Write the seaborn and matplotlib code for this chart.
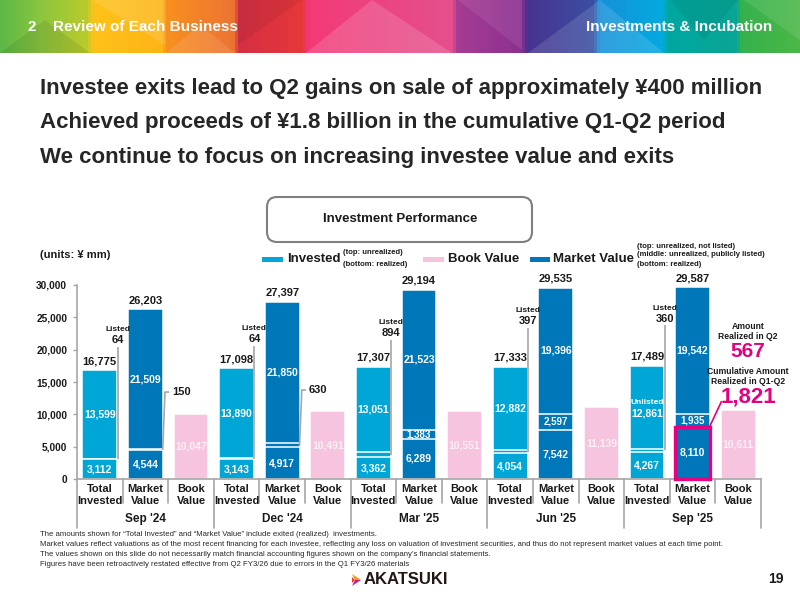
import numpy as np
import matplotlib
matplotlib.use("Agg")
import matplotlib.pyplot as plt
from matplotlib import font_manager
from matplotlib.patches import Rectangle, FancyBboxPatch, Polygon
from matplotlib.colors import LinearSegmentedColormap
from matplotlib.ticker import FuncFormatter
import pandas as pd
import seaborn as sns

# ---- data (units: JPY mm) ----
periods = ["Sep '24", "Dec '24", "Mar '25", "Jun '25", "Sep '25"]
kinds = ["Total\nInvested", "Market\nValue", "Book\nValue"]

inv_realized = [3112, 3143, 3362, 4054, 4267]
inv_listed = [64, 64, 894, 397, 360]
inv_unrealized = [13599, 13890, 13051, 12882, 12861]
inv_total = [16775, 17098, 17307, 17333, 17489]

mv_realized = [4544, 4917, 6289, 7542, 8110]
mv_listed = [150, 630, 1383, 2597, 1935]
mv_unlisted = [21509, 21850, 21523, 19396, 19542]
mv_total = [26203, 27397, 29194, 29535, 29587]

book_value = [10047, 10491, 10551, 11139, 10611]

realized_q2 = 567
realized_q1_q2 = 1821

C_INV = "#00A6D6"
C_MV = "#0077B9"
C_BOOK = "#F6C4DE"
MAGENTA = "#E4007F"
GRAY = "#A6A6A6"
TXT = "#1a1a1a"

sns.set_theme(style="white")
plt.rcParams["font.family"] = ["Liberation Sans", "DejaVu Sans"]
names = {f.name for f in font_manager.fontManager.ttflist}
NARROW = "Liberation Sans Narrow" if "Liberation Sans Narrow" in names else "Liberation Sans"

fig = plt.figure(figsize=(8, 6), dpi=100)

# decoration layer in pixel coords
deco = fig.add_axes([0, 0, 1, 1])
deco.axis("off")

# header banner
stops = [(0, "#5db846"), (40, "#8cc63f"), (85, "#b9cb2b"), (92, "#ffc21a"), (160, "#fdb515"),
         (166, "#f8901e"), (232, "#ec7433"), (238, "#d42f44"), (302, "#e6383a"), (308, "#f33a77"),
         (452, "#e4508c"), (458, "#a63c93"), (522, "#8b3191"), (528, "#48338f"), (594, "#3a4fa2"),
         (600, "#1690da"), (664, "#04aadf"), (670, "#00a8a0"), (738, "#0aa596"), (744, "#35b24b"),
         (800, "#4cb748")]
cmap = LinearSegmentedColormap.from_list("banner", [(p / 800, c) for p, c in stops])
grad = cmap(np.linspace(0, 1, 800))[None, :, :]
deco.imshow(grad, extent=[0, 800, 53, 0], aspect="auto")
facets = [
    ([(0, 53), (45, 20), (90, 53)], "black", 0.08),
    ([(92, 0), (165, 45), (165, 0)], "white", 0.12),
    ([(166, 53), (200, 25), (235, 53)], "white", 0.10),
    ([(238, 0), (302, 0), (238, 45)], "black", 0.06),
    ([(306, 53), (372, 0), (452, 53)], "white", 0.14),
    ([(458, 0), (522, 0), (522, 50)], "white", 0.08),
    ([(528, 53), (600, 0), (664, 53)], "white", 0.12),
    ([(670, 0), (738, 0), (704, 40)], "black", 0.06),
    ([(744, 0), (800, 0), (800, 40)], "white", 0.10),
]
for pts, col, a in facets:
    deco.add_patch(Polygon(pts, closed=True, fc=col, ec="none", alpha=a))
deco.text(28, 27, "2", color="white", fontsize=11, fontweight="bold", va="center")
deco.text(53, 27, "Review of Each Business", color="white", fontsize=11, fontweight="bold", va="center")
deco.text(772, 27, "Investments & Incubation", color="white", fontsize=11, fontweight="bold",
          va="center", ha="right")

# headline
heads = ["Investee exits lead to Q2 gains on sale of approximately \u00a5400 million",
         "Achieved proceeds of \u00a51.8 billion in the cumulative Q1-Q2 period",
         "We continue to focus on increasing investee value and exits"]
for y, h in zip([94, 128, 163], heads):
    deco.text(40, y, h, fontsize=16, fontweight="bold", color="#262626", va="baseline")

# box title
deco.add_patch(FancyBboxPatch((267, 197), 265, 45, boxstyle="round,pad=0,rounding_size=10",
                              fc="white", ec="#7f7f7f", lw=1.5))
deco.text(400, 219, "Investment Performance", fontsize=9.5, fontweight="bold", ha="center",
          va="center", color=TXT)
deco.text(40, 255, "(units: \u00a5 mm)", fontsize=8, fontweight="bold", va="center", color=TXT)

# legend
deco.add_patch(Rectangle((262, 256.5), 21, 5, fc=C_INV, ec="none"))
deco.text(287, 259, "Invested", fontsize=9.5, fontweight="bold", va="center", color=TXT)
deco.text(343, 253, "(top: unrealized)", fontsize=5.5, fontweight="bold", va="center", color=TXT)
deco.text(343, 264, "(bottom: realized)", fontsize=5.5, fontweight="bold", va="center", color=TXT)
deco.add_patch(Rectangle((423, 256.5), 21, 5, fc=C_BOOK, ec="none"))
deco.text(448, 259, "Book Value", fontsize=9.5, fontweight="bold", va="center", color=TXT)
deco.add_patch(Rectangle((530, 256.5), 20, 5, fc=C_MV, ec="none"))
deco.text(553, 259, "Market Value", fontsize=9.5, fontweight="bold", va="center", color=TXT)
for y, s in zip([246, 255, 264], ["(top: unrealized, not listed)",
                                  "(middle: unrealized, publicly listed)",
                                  "(bottom: realized)"]):
    deco.text(637, y, s, fontsize=5.5, fontweight="bold", va="center", color=TXT)

# footnotes
notes = ["The amounts shown for \u201cTotal Invested\u201d and \u201cMarket Value\u201d include exited (realized)  investments.",
         "Market values reflect valuations as of the most recent financing for each investee, reflecting any loss on valuation of investment securities, and thus do not represent market values at each time point.",
         "The values shown on this slide do not necessarily match financial accounting figures shown on the company\u2019s financial statements.",
         "Figures have been retroactively restated effective from Q2 FY3/26 due to errors in the Q1 FY3/26 materials"]
for y, n in zip([534, 544.5, 555, 565], notes):
    deco.text(40, y, n, fontsize=5.55, family=NARROW, va="center", color="#262626")

# logo + page
deco.add_patch(Polygon([(352, 574), (361, 580), (355, 580)], fc="#f39800", ec="none"))
deco.add_patch(Polygon([(355, 580), (361, 580), (352, 586)], fc="#c3208a", ec="none"))
deco.add_patch(Polygon([(352, 577), (355, 580), (352, 583)], fc="#e8383d", ec="none"))
deco.text(364, 580, "AKATSUKI", fontsize=12, fontweight="bold", va="center", color="#231815")
deco.text(776, 579, "19", fontsize=10, fontweight="bold", va="center", ha="center", color=TXT)

deco.set_xlim(0, 800)
deco.set_ylim(600, 0)

# ---- chart ----
ax = fig.add_axes([77 / 800, 1 - 479.3 / 600, (761 - 77) / 800, (479.3 - 284.7) / 600])
ax.patch.set_alpha(0)

slots = [f"s{i}" for i in range(15)]
inv_pos = [3 * g for g in range(5)]
mv_pos = [3 * g + 1 for g in range(5)]
bk_pos = [3 * g + 2 for g in range(5)]

r_i, l_i, u_i = map(np.array, (inv_realized, inv_listed, inv_unrealized))
r_m, l_m, u_m = map(np.array, (mv_realized, mv_listed, mv_unlisted))
layers = [
    (inv_pos, r_i + l_i + u_i, C_INV), (inv_pos, r_i + l_i, C_INV), (inv_pos, r_i, C_INV),
    (mv_pos, r_m + l_m + u_m, C_MV), (mv_pos, r_m + l_m, C_MV), (mv_pos, r_m, C_MV),
    (bk_pos, np.array(book_value), C_BOOK),
]
for pos, vals, col in layers:
    df = pd.DataFrame({"slot": [slots[p] for p in pos], "value": vals})
    sns.barplot(data=df, x="slot", y="value", order=slots, color=col, saturation=1,
                width=0.76, edgecolor="white", linewidth=1.1, errorbar=None, ax=ax)

ax.set_xlim(-0.5, 14.5)
ax.set_ylim(0, 30000)
ax.set_xlabel("")
ax.set_ylabel("")
ax.set_xticks([])
ax.set_yticks(range(0, 30001, 5000))
ax.yaxis.set_major_formatter(FuncFormatter(lambda v, _: f"{v:,.0f}"))
ax.tick_params(axis="y", left=True, length=3, width=1, color=GRAY, labelsize=7.3, pad=4,
               labelcolor=TXT)
for lbl in ax.get_yticklabels():
    lbl.set_fontweight("bold")
sns.despine(ax=ax)
for s in ("left", "bottom"):
    ax.spines[s].set_color(GRAY)
    ax.spines[s].set_linewidth(1.2)

wlab = dict(color="white", fontweight="bold", ha="center", va="center", fontsize=7.5)
blab = dict(color=TXT, fontweight="bold", ha="center", fontsize=8)
for g in range(5):
    xi, xm, xb = inv_pos[g], mv_pos[g], bk_pos[g]
    # invested
    ax.text(xi, r_i[g] / 2, f"{r_i[g]:,}", **wlab)
    mid = r_i[g] + l_i[g] + u_i[g] / 2
    if g == 4:
        ax.text(xi, mid + 850, "Unlisted", **{**wlab, "fontsize": 6})
        ax.text(xi, mid - 850, f"{u_i[g]:,}", **wlab)
    else:
        ax.text(xi, mid, f"{u_i[g]:,}", **wlab)
    ax.annotate(f"{inv_total[g]:,}", (xi, r_i[g] + l_i[g] + u_i[g]), xytext=(0, 3),
                textcoords="offset points", va="bottom", **blab)
    # market value
    ax.text(xm, r_m[g] / 2, f"{r_m[g]:,}", **wlab)
    ax.text(xm, r_m[g] + l_m[g] + u_m[g] / 2, f"{u_m[g]:,}", **wlab)
    if g >= 2:
        ax.text(xm, r_m[g] + l_m[g] / 2, f"{l_m[g]:,}", **{**wlab, "fontsize": 7})
    ax.annotate(f"{mv_total[g]:,}", (xm, r_m[g] + l_m[g] + u_m[g]), xytext=(0, 3),
                textcoords="offset points", va="bottom", **blab)
    # book
    ax.text(xb, book_value[g] / 2, f"{book_value[g]:,}", **{**wlab, "color": "#fdf0f6"})

# listed call-outs on invested bars
listed_y = [21460, 21600, 22540, 24390, 24750]
for g in range(5):
    x = inv_pos[g] + 0.39
    ax.plot([x, x], [r_i[g] + l_i[g] / 2, listed_y[g] - 1000], color=GRAY, lw=1.2,
            solid_capstyle="butt")
    ax.text(x, listed_y[g], f"{l_i[g]:,}", va="center", **blab)
    ax.text(x, listed_y[g] + 1600, "Listed", va="center", **{**blab, "fontsize": 6})

# listed call-outs on early market bars
mv_call_y = [13450, 13760]
for g in range(2):
    x = mv_pos[g]
    y0 = r_m[g] + l_m[g] / 2
    ax.plot([x + 0.38, x + 0.43, x + 0.51], [y0, mv_call_y[g], mv_call_y[g]], color=GRAY, lw=1.2)
    ax.text(x + 0.58, mv_call_y[g], f"{l_m[g]:,}", va="center", ha="left", color=TXT,
            fontweight="bold", fontsize=8)

# Sep '25 realized highlight
ax.add_patch(Rectangle((mv_pos[4] - 0.38, 0), 0.76, r_m[4], fill=False, ec=MAGENTA, lw=2.4,
                       zorder=5, clip_on=False))
ax.plot([mv_pos[4] + 0.38, 13.63], [r_m[4] + 100, 11960], color=MAGENTA, lw=1.2, clip_on=False)
ax.text(14.22, 22770, "Amount\nRealized in Q2", ha="center", va="center", fontsize=6.2,
        fontweight="bold", color=TXT, linespacing=1.25)
ax.text(14.22, 19770, f"{realized_q2:,}", ha="center", va="center", fontsize=15,
        fontweight="bold", color=MAGENTA)
ax.text(14.22, 15840, "Cumulative Amount\nRealized in Q1-Q2", ha="center", va="center",
        fontsize=6.2, fontweight="bold", color=TXT, linespacing=1.25)
ax.text(14.22, 12680, f"{realized_q1_q2:,}", ha="center", va="center", fontsize=16,
        fontweight="bold", color=MAGENTA)

# category table under the axis
tr = ax.get_xaxis_transform()
for i in range(16):
    ylow = -0.25 if i % 3 == 0 else -0.123
    ax.plot([i - 0.5, i - 0.5], [0, ylow], transform=tr, color=GRAY, lw=1.2, clip_on=False)
for i in range(15):
    ax.text(i, -0.081, kinds[i % 3], transform=tr, ha="center", va="center", fontsize=8,
            fontweight="bold", family=NARROW, color=TXT, linespacing=1.35)
for g, p in enumerate(periods):
    ax.text(3 * g + 1, -0.204, p, transform=tr, ha="center", va="center", fontsize=8.5,
            fontweight="bold", color=TXT)

fig.savefig("out.png", dpi=100)
